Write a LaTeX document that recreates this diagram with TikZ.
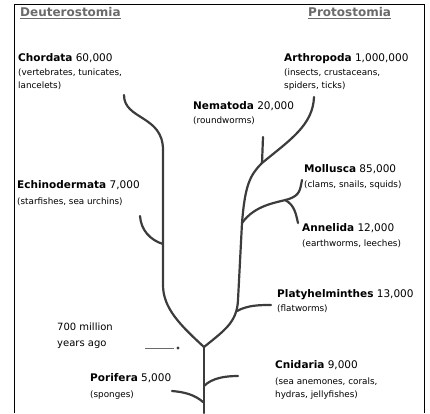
\documentclass[tikz,border=0pt]{standalone}
\usepackage{fontspec}
\setmainfont{Liberation Sans}
\newfontfamily\widesans{DejaVu Sans}
\usetikzlibrary{positioning}
\definecolor{TreeGray}{HTML}{3C3C3C}
\definecolor{HeadGray}{HTML}{6A6A6A}
\newcommand{\phy}[2]{{\fontsize{10.5}{12}\selectfont\textbf{#1} #2}}
\begin{document}
\begin{tikzpicture}[x=1pt,y=-1pt]
  \tikzstyle{taxon}=[anchor=north west,inner sep=0pt,align=left,
    font=\widesans\fontsize{8.8}{13}\selectfont]
  \tikzstyle{clade}=[anchor=west,inner sep=0pt,text=HeadGray,
    font=\widesans\bfseries\fontsize{12}{13}\selectfont]
  \tikzstyle{branch}=[draw=TreeGray,line width=2.2pt,line cap=round]
  \useasboundingbox (0,0) rectangle (430,413);
  \draw[line width=1pt] (14,413) -- (14,4) -- (424,4) -- (424,413);
  % clade headings
  \node[clade] (deut) at (20,13) {\underline{Deuterostomia}};
  \node[clade] (prot) at (308,13) {\underline{Protostomia}};
  % phyla
  \node[taxon] (chor) at (18,53) {\phy{Chordata}{60,000}\\[1pt](vertebrates, tunicates,\\lancelets)};
  \node[taxon] (arth) at (284,53) {\phy{Arthropoda}{1,000,000}\\[1pt](insects, crustaceans,\\spiders, ticks)};
  \node[taxon] (nema) at (193,101) {\phy{Nematoda}{20,000}\\[1pt](roundworms)};
  \node[taxon] (moll) at (304,164) {\phy{Mollusca}{85,000}\\[2pt](clams, snails, squids)};
  \node[taxon] (anne) at (302,223) {\phy{Annelida}{12,000}\\[2pt](earthworms, leeches)};
  \node[taxon] (echi) at (17,180) {\phy{Echinodermata}{7,000}\\[3pt](starfishes, sea urchins)};
  \node[taxon] (plat) at (277,289) {\phy{Platyhelminthes}{13,000}\\[1pt](flatworms)};
  \node[taxon] (cnid) at (275,360) {\phy{Cnidaria}{9,000}\\[3pt](sea anemones, corals,\\hydras, jellyfishes)};
  \node[taxon] (pori) at (90,373) {\phy{Porifera}{5,000}\\[3pt](sponges)};
  \node[taxon,font=\widesans\fontsize{10}{16}\selectfont] (age) at (57,323) {700 million\\years ago};
  % time mark
  \coordinate (tick) at (178,348);
  \draw[HeadGray,line width=0.6pt] (tick) ++(-33,0) coordinate (tl) -- ++(29,0);
  \fill[TreeGray] (tick) circle (1.6);
  % the tree
  \coordinate (root) at (204,413);
  \coordinate (fork) at (204,347);
  \coordinate (echj) at (163,244);
  \coordinate (lopj) at (242,223);
  \coordinate (nemj) at (262,163);
  \coordinate (molj) at (289,199);
  \draw[branch] (root) -- (fork);
  \draw[branch] (203,402) .. controls (195,395) and (185,392) .. (172,391);
  \draw[branch] (204,386) .. controls (212,378) and (225,376) .. (238,376);
  \draw[branch] (fork) .. controls (180,325) and (163,308) .. (163,285)
    -- (163,150) .. controls (163,115) and (124,120) .. (124,95);
  \draw[branch] (echj) .. controls (150,240) and (141,230) .. (140,216);
  \draw[branch] (fork) .. controls (225,330) and (237,322) .. (238,300)
    -- (lopj) .. controls (245,185) and (250,175) .. (nemj)
    .. controls (290,140) and (313,125) .. (314,97);
  \draw[branch] (237,311) .. controls (248,305) and (260,305) .. (271,305);
  \draw[branch] (lopj) .. controls (255,205) and (275,203) .. (molj);
  \draw[branch] (molj) .. controls (300,195) and (300,190) .. (302,180);
  \draw[branch] (285,200) .. controls (295,205) and (296,215) .. (298,223);
  \draw[branch] (nemj) -- (263,137);
\end{tikzpicture}
\end{document}
